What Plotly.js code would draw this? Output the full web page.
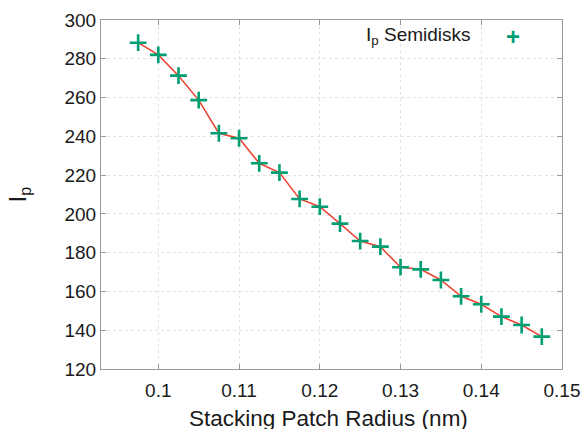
<!DOCTYPE html>
<html>
<head>
<meta charset="utf-8">
<script src="https://cdn.plot.ly/plotly-3.0.1.min.js"></script>
<style>html,body{margin:0;padding:0;background:#fff;}#chart{width:586px;height:429px;}</style>
</head>
<body>
<div id="chart"></div>
<script>
const radius = [0.0975, 0.1, 0.1025, 0.105, 0.1075, 0.11, 0.1125, 0.115, 0.1175, 0.12, 0.1225,
                0.125, 0.1275, 0.13, 0.1325, 0.135, 0.1375, 0.14, 0.1425, 0.145, 0.1475];
const ip = [288.3, 282, 271.3, 258.7, 241.6, 239, 226.1, 221.3, 207.7, 203.7, 195,
            186, 183.1, 172.5, 171.4, 165.9, 157.5, 153.4, 147, 142.7, 136.7];
const xTickVals = [0.1, 0.11, 0.12, 0.13, 0.14, 0.15];
const xTickText = ['0.1', '0.11', '0.12', '0.13', '0.14', '0.15'];
const yTickVals = [120, 140, 160, 180, 200, 220, 240, 260, 280, 300];
const seriesName = 'I<sub>p</sub> Semidisks';
const xTitle = 'Stacking Patch Radius (nm)';

const green = '#009e73';
const red = '#ec4130';
const font = 'Liberation Sans, Arial, sans-serif';

const traces = [
  {x: radius, y: ip, type: 'scatter', mode: 'lines', line: {color: red, width: 1.5},
   showlegend: false, hoverinfo: 'skip'},
  {x: radius, y: ip, type: 'scatter', mode: 'markers', name: seriesName,
   marker: {symbol: 'cross-thin', size: 12, line: {color: green, width: 2.6}, color: green},
   showlegend: false}
];

const axisCommon = {
  showline: true, linecolor: '#999', linewidth: 1, mirror: 'ticks',
  ticks: 'inside', ticklen: 5, tickcolor: '#999',
  showgrid: true, gridcolor: '#e2e2e2', griddash: 'dot', gridwidth: 1,
  zeroline: false, tickfont: {family: font, size: 19, color: '#1a1a1a'}
};

const layout = {
  width: 586, height: 429,
  margin: {l: 101, r: 24, t: 20, b: 60},
  paper_bgcolor: '#fff', plot_bgcolor: '#fff',
  showlegend: false,
  xaxis: Object.assign({}, axisCommon, {
    range: [0.0929, 0.15], tickvals: xTickVals, ticktext: xTickText,
    ticklabelstandoff: 4, automargin: false
  }),
  yaxis: Object.assign({}, axisCommon, {
    range: [120, 300], tickvals: yTickVals, automargin: false,
    title: {text: 'I<sub>p</sub>', font: {family: font, size: 23, color: '#1a1a1a'}, standoff: 31}
  }),
  annotations: [
    {xref: 'paper', yref: 'paper', x: 0.493, y: -0.142, xanchor: 'center', yanchor: 'middle',
     text: xTitle, showarrow: false, font: {family: font, size: 22.5, color: '#1a1a1a'}},
    {xref: 'paper', yref: 'paper', x: 0.806, y: 0.955, xanchor: 'right', yanchor: 'middle',
     text: seriesName, showarrow: false, font: {family: font, size: 19, color: '#1a1a1a'}},
    {xref: 'paper', yref: 'paper', x: 0.893, y: 0.953, xanchor: 'center', yanchor: 'middle',
     text: '<b>+</b>', showarrow: false, font: {family: font, size: 24, color: green}}
  ]
};

Plotly.newPlot('chart', traces, layout, {displayModeBar: false, staticPlot: true});
</script>
</body>
</html>
